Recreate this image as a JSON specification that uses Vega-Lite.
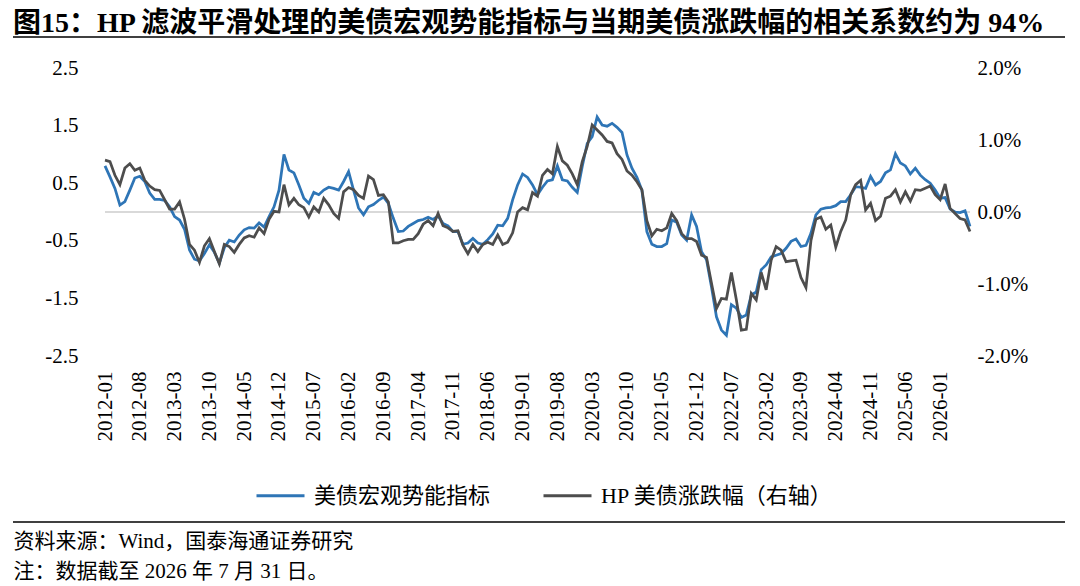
{
"$schema": "https://vega.github.io/schema/vega-lite/v6.json",
"width": 865,
"height": 288,
"autosize": "none",
"padding": {"left": 105, "top": 68, "right": 110, "bottom": 230},
"background": "white",
"config": {"view": {"stroke": null}, "font": "Liberation Serif, Noto Sans CJK SC"},
"title": {"text": "图15：HP 滤波平滑处理的美债宏观势能指标与当期美债涨跌幅的相关系数约为 94%", "anchor": "start", "frame": "group", "dx": -92, "offset": -2, "font": "Liberation Serif, Noto Sans CJK SC", "fontSize": 28, "fontWeight": "bold", "color": "#000000"},
"data": {"values": [
{"date":"2012-01","indicator":0.80,"hp":0.72},{"date":"2012-02","indicator":0.61,"hp":0.70},{"date":"2012-03","indicator":0.41,"hp":0.51},{"date":"2012-04","indicator":0.12,"hp":0.38},{"date":"2012-05","indicator":0.18,"hp":0.61},{"date":"2012-06","indicator":0.38,"hp":0.67},{"date":"2012-07","indicator":0.59,"hp":0.58},{"date":"2012-08","indicator":0.62,"hp":0.61},{"date":"2012-09","indicator":0.53,"hp":0.44},{"date":"2012-10","indicator":0.33,"hp":0.36},{"date":"2012-11","indicator":0.22,"hp":0.31},{"date":"2012-12","indicator":0.22,"hp":0.30},
{"date":"2013-01","indicator":0.20,"hp":0.17},{"date":"2013-02","indicator":0.09,"hp":0.04},{"date":"2013-03","indicator":-0.08,"hp":0.04},{"date":"2013-04","indicator":-0.14,"hp":0.14},{"date":"2013-05","indicator":-0.30,"hp":-0.10},{"date":"2013-06","indicator":-0.66,"hp":-0.45},{"date":"2013-07","indicator":-0.82,"hp":-0.53},{"date":"2013-08","indicator":-0.85,"hp":-0.70},{"date":"2013-09","indicator":-0.72,"hp":-0.47},{"date":"2013-10","indicator":-0.57,"hp":-0.37},{"date":"2013-11","indicator":-0.70,"hp":-0.55},{"date":"2013-12","indicator":-0.89,"hp":-0.72},
{"date":"2014-01","indicator":-0.62,"hp":-0.45},{"date":"2014-02","indicator":-0.49,"hp":-0.48},{"date":"2014-03","indicator":-0.52,"hp":-0.56},{"date":"2014-04","indicator":-0.40,"hp":-0.45},{"date":"2014-05","indicator":-0.31,"hp":-0.36},{"date":"2014-06","indicator":-0.27,"hp":-0.33},{"date":"2014-07","indicator":-0.28,"hp":-0.35},{"date":"2014-08","indicator":-0.19,"hp":-0.22},{"date":"2014-09","indicator":-0.26,"hp":-0.30},{"date":"2014-10","indicator":-0.08,"hp":-0.10},{"date":"2014-11","indicator":0.09,"hp":0.01},{"date":"2014-12","indicator":0.38,"hp":0.00},
{"date":"2015-01","indicator":1.00,"hp":0.38},{"date":"2015-02","indicator":0.73,"hp":0.10},{"date":"2015-03","indicator":0.68,"hp":0.19},{"date":"2015-04","indicator":0.47,"hp":0.10},{"date":"2015-05","indicator":0.24,"hp":0.06},{"date":"2015-06","indicator":0.15,"hp":-0.07},{"date":"2015-07","indicator":0.34,"hp":0.07},{"date":"2015-08","indicator":0.30,"hp":0.00},{"date":"2015-09","indicator":0.38,"hp":0.19},{"date":"2015-10","indicator":0.43,"hp":0.10},{"date":"2015-11","indicator":0.41,"hp":-0.02},{"date":"2015-12","indicator":0.38,"hp":-0.09},
{"date":"2016-01","indicator":0.53,"hp":0.28},{"date":"2016-02","indicator":0.70,"hp":0.34},{"date":"2016-03","indicator":0.38,"hp":0.31},{"date":"2016-04","indicator":0.07,"hp":0.23},{"date":"2016-05","indicator":-0.05,"hp":0.19},{"date":"2016-06","indicator":0.09,"hp":0.50},{"date":"2016-07","indicator":0.13,"hp":0.45},{"date":"2016-08","indicator":0.20,"hp":0.23},{"date":"2016-09","indicator":0.26,"hp":0.24},{"date":"2016-10","indicator":0.15,"hp":0.14},{"date":"2016-11","indicator":-0.11,"hp":-0.43},{"date":"2016-12","indicator":-0.34,"hp":-0.43},
{"date":"2017-01","indicator":-0.33,"hp":-0.40},{"date":"2017-02","indicator":-0.25,"hp":-0.38},{"date":"2017-03","indicator":-0.20,"hp":-0.38},{"date":"2017-04","indicator":-0.15,"hp":-0.30},{"date":"2017-05","indicator":-0.13,"hp":-0.17},{"date":"2017-06","indicator":-0.09,"hp":-0.12},{"date":"2017-07","indicator":-0.13,"hp":-0.19},{"date":"2017-08","indicator":-0.07,"hp":-0.02},{"date":"2017-09","indicator":-0.20,"hp":-0.19},{"date":"2017-10","indicator":-0.24,"hp":-0.22},{"date":"2017-11","indicator":-0.34,"hp":-0.27},{"date":"2017-12","indicator":-0.34,"hp":-0.26},
{"date":"2018-01","indicator":-0.56,"hp":-0.46},{"date":"2018-02","indicator":-0.54,"hp":-0.58},{"date":"2018-03","indicator":-0.46,"hp":-0.45},{"date":"2018-04","indicator":-0.54,"hp":-0.55},{"date":"2018-05","indicator":-0.56,"hp":-0.45},{"date":"2018-06","indicator":-0.48,"hp":-0.42},{"date":"2018-07","indicator":-0.38,"hp":-0.45},{"date":"2018-08","indicator":-0.23,"hp":-0.32},{"date":"2018-09","indicator":-0.24,"hp":-0.45},{"date":"2018-10","indicator":-0.11,"hp":-0.42},{"date":"2018-11","indicator":0.21,"hp":-0.29},{"date":"2018-12","indicator":0.47,"hp":0.00},
{"date":"2019-01","indicator":0.66,"hp":0.06},{"date":"2019-02","indicator":0.60,"hp":0.03},{"date":"2019-03","indicator":0.47,"hp":0.27},{"date":"2019-04","indicator":0.30,"hp":0.22},{"date":"2019-05","indicator":0.43,"hp":0.51},{"date":"2019-06","indicator":0.54,"hp":0.59},{"date":"2019-07","indicator":0.56,"hp":0.53},{"date":"2019-08","indicator":0.80,"hp":0.91},{"date":"2019-09","indicator":0.56,"hp":0.71},{"date":"2019-10","indicator":0.54,"hp":0.65},{"date":"2019-11","indicator":0.43,"hp":0.53},{"date":"2019-12","indicator":0.34,"hp":0.38},
{"date":"2020-01","indicator":0.79,"hp":0.70},{"date":"2020-02","indicator":1.19,"hp":0.91},{"date":"2020-03","indicator":1.31,"hp":1.21},{"date":"2020-04","indicator":1.65,"hp":1.14},{"date":"2020-05","indicator":1.51,"hp":1.07},{"date":"2020-06","indicator":1.49,"hp":0.98},{"date":"2020-07","indicator":1.54,"hp":0.96},{"date":"2020-08","indicator":1.47,"hp":0.81},{"date":"2020-09","indicator":1.38,"hp":0.73},{"date":"2020-10","indicator":0.99,"hp":0.57},{"date":"2020-11","indicator":0.76,"hp":0.51},{"date":"2020-12","indicator":0.60,"hp":0.42},
{"date":"2021-01","indicator":0.38,"hp":0.31},{"date":"2021-02","indicator":-0.34,"hp":-0.12},{"date":"2021-03","indicator":-0.56,"hp":-0.33},{"date":"2021-04","indicator":-0.60,"hp":-0.24},{"date":"2021-05","indicator":-0.60,"hp":-0.26},{"date":"2021-06","indicator":-0.55,"hp":-0.22},{"date":"2021-07","indicator":-0.14,"hp":-0.02},{"date":"2021-08","indicator":-0.18,"hp":-0.12},{"date":"2021-09","indicator":-0.40,"hp":-0.30},{"date":"2021-10","indicator":-0.49,"hp":-0.37},{"date":"2021-11","indicator":-0.05,"hp":-0.37},{"date":"2021-12","indicator":-0.25,"hp":-0.41},
{"date":"2022-01","indicator":-0.69,"hp":-0.60},{"date":"2022-02","indicator":-0.83,"hp":-0.63},{"date":"2022-03","indicator":-1.30,"hp":-0.99},{"date":"2022-04","indicator":-1.82,"hp":-1.34},{"date":"2022-05","indicator":-2.05,"hp":-1.20},{"date":"2022-06","indicator":-2.14,"hp":-1.21},{"date":"2022-07","indicator":-1.61,"hp":-0.84},{"date":"2022-08","indicator":-1.67,"hp":-1.22},{"date":"2022-09","indicator":-1.83,"hp":-1.64},{"date":"2022-10","indicator":-1.79,"hp":-1.63},{"date":"2022-11","indicator":-1.44,"hp":-1.13},{"date":"2022-12","indicator":-1.39,"hp":-1.22},
{"date":"2023-01","indicator":-1.00,"hp":-0.84},{"date":"2023-02","indicator":-0.92,"hp":-1.08},{"date":"2023-03","indicator":-0.78,"hp":-0.67},{"date":"2023-04","indicator":-0.75,"hp":-0.48},{"date":"2023-05","indicator":-0.72,"hp":-0.53},{"date":"2023-06","indicator":-0.63,"hp":-0.69},{"date":"2023-07","indicator":-0.51,"hp":-0.68},{"date":"2023-08","indicator":-0.47,"hp":-0.67},{"date":"2023-09","indicator":-0.60,"hp":-0.91},{"date":"2023-10","indicator":-0.58,"hp":-1.05},{"date":"2023-11","indicator":-0.37,"hp":-0.40},{"date":"2023-12","indicator":-0.05,"hp":-0.10},
{"date":"2024-01","indicator":0.05,"hp":-0.07},{"date":"2024-02","indicator":0.07,"hp":-0.24},{"date":"2024-03","indicator":0.08,"hp":-0.18},{"date":"2024-04","indicator":0.11,"hp":-0.49},{"date":"2024-05","indicator":0.18,"hp":-0.27},{"date":"2024-06","indicator":0.18,"hp":-0.11},{"date":"2024-07","indicator":0.30,"hp":0.24},{"date":"2024-08","indicator":0.44,"hp":0.38},{"date":"2024-09","indicator":0.43,"hp":0.44},{"date":"2024-10","indicator":0.41,"hp":0.03},{"date":"2024-11","indicator":0.62,"hp":0.12},{"date":"2024-12","indicator":0.47,"hp":-0.12},
{"date":"2025-01","indicator":0.53,"hp":-0.06},{"date":"2025-02","indicator":0.68,"hp":0.19},{"date":"2025-03","indicator":0.73,"hp":0.22},{"date":"2025-04","indicator":1.01,"hp":0.31},{"date":"2025-05","indicator":0.85,"hp":0.14},{"date":"2025-06","indicator":0.80,"hp":0.28},{"date":"2025-07","indicator":0.66,"hp":0.15},{"date":"2025-08","indicator":0.76,"hp":0.31},{"date":"2025-09","indicator":0.64,"hp":0.30},{"date":"2025-10","indicator":0.56,"hp":0.33},{"date":"2025-11","indicator":0.50,"hp":0.36},{"date":"2025-12","indicator":0.38,"hp":0.24},
{"date":"2026-01","indicator":0.24,"hp":0.17},{"date":"2026-02","indicator":0.25,"hp":0.39},{"date":"2026-03","indicator":0.05,"hp":0.05},{"date":"2026-04","indicator":0.00,"hp":-0.02},{"date":"2026-05","indicator":-0.01,"hp":-0.09},{"date":"2026-06","indicator":0.02,"hp":-0.11},{"date":"2026-07","indicator":-0.25,"hp":-0.27}
]},
"layer": [
{
"layer": [
{"data": {"values": [{}]}, "mark": {"type": "rule", "color": "#d9d9d9", "strokeWidth": 2}, "encoding": {"y": {"datum": 0, "type": "quantitative"}}},
{"mark": {"type": "line", "strokeWidth": 2.75, "interpolate": "linear"},
"encoding": {
"x": {"field": "date", "type": "ordinal", "sort": null, "scale": {"type": "point", "padding": 0},
"axis": {"values": ["2012-01","2012-08","2013-03","2013-10","2014-05","2014-12","2015-07","2016-02","2016-09","2017-04","2017-11","2018-06","2019-01","2019-08","2020-03","2020-10","2021-05","2021-12","2022-07","2023-02","2023-09","2024-04","2024-11","2025-06","2026-01"],
"labelAngle": -90, "labelAlign": "right", "labelBaseline": "middle", "labelFont": "Liberation Serif", "labelFontSize": 21, "labelColor": "#000000", "labelPadding": 15, "ticks": false, "domain": false, "grid": false,
"title": ["资料来源：Wind，国泰海通证券研究", "注：数据截至 2026 年 7 月 31 日。"], "titleX": -92, "titleY": 174, "titleAlign": "left", "titleAnchor": "start", "titleBaseline": "top", "titleFont": "Liberation Serif, Noto Sans CJK SC", "titleFontSize": 21, "titleFontWeight": "normal", "titleColor": "#000000", "titleLineHeight": 30}},
"y": {"field": "indicator", "type": "quantitative", "scale": {"domain": [-2.5, 2.5], "nice": false, "zero": false},
"axis": {"values": [-2.5, -1.5, -0.5, 0.5, 1.5, 2.5], "labelExpr": "replace(format(datum.value, '.1f'), '\u2212', '-')", "labelFont": "Liberation Serif", "labelFontSize": 21, "labelColor": "#000000", "labelPadding": 27, "ticks": false, "domain": false, "grid": false, "title": null}},
"color": {"datum": "美债宏观势能指标", "scale": {"domain": ["美债宏观势能指标", "HP 美债涨跌幅（右轴）"], "range": ["#2E75B6", "#4D4D4D"]},
"legend": {"title": null, "orient": "none", "legendX": 150, "legendY": 402, "direction": "horizontal", "symbolType": "stroke", "symbolSize": 2304, "symbolStrokeWidth": 3, "labelFont": "Liberation Serif, Noto Sans CJK SC", "labelFontSize": 22, "labelColor": "#000000", "labelOffset": 8, "labelLimit": 400, "columnPadding": 46, "padding": 0}}
}}
]
},
{"mark": {"type": "line", "strokeWidth": 2.75, "interpolate": "linear"},
"encoding": {
"x": {"field": "date", "type": "ordinal", "sort": null},
"y": {"field": "hp", "type": "quantitative", "scale": {"domain": [-2, 2], "nice": false, "zero": false},
"axis": {"orient": "right", "values": [-2, -1, 0, 1, 2], "labelExpr": "replace(format(datum.value, '.1f'), '\u2212', '-') + '%'", "labelFont": "Liberation Serif", "labelFontSize": 21, "labelColor": "#000000", "labelPadding": 7, "labelAlign": "left", "ticks": false, "domain": false, "grid": false, "title": null}},
"color": {"datum": "HP 美债涨跌幅（右轴）"}
}},
{"data": {"values": [{}]}, "mark": {"type": "rule", "color": "#000000", "strokeWidth": 1.5}, "encoding": {"x": {"value": -92}, "x2": {"value": 960}, "y": {"value": -31}}},
{"data": {"values": [{}]}, "mark": {"type": "rule", "color": "#000000", "strokeWidth": 1.5}, "encoding": {"x": {"value": -92}, "x2": {"value": 960}, "y": {"value": 454}}}
],
"resolve": {"scale": {"y": "independent"}}
}
